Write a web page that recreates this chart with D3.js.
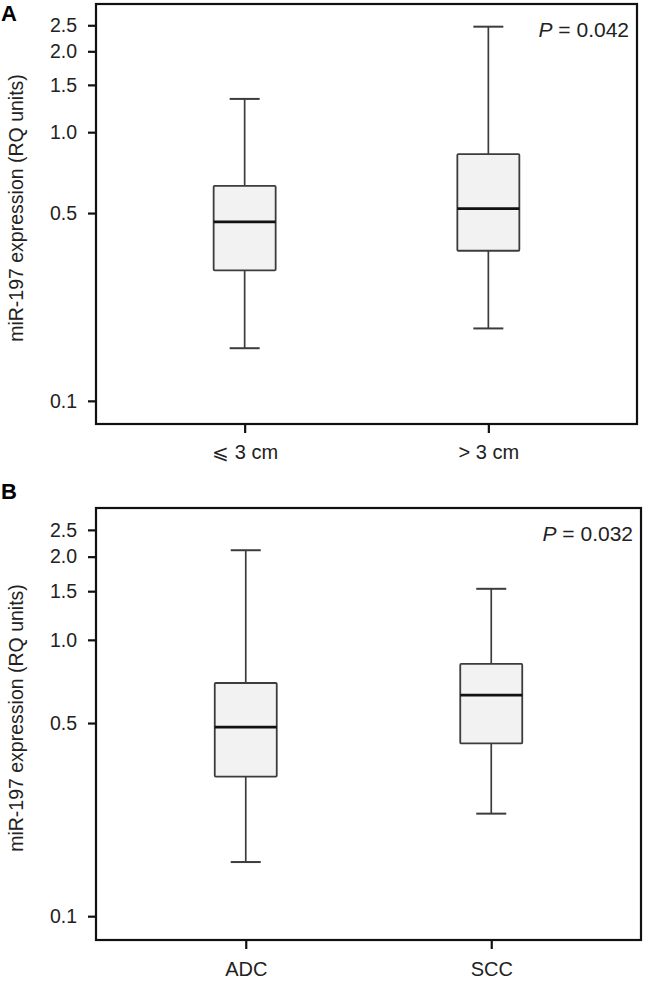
<!DOCTYPE html>
<html>
<head>
<meta charset="utf-8">
<script src="https://cdn.jsdelivr.net/npm/d3@7"></script>
<style>
  html, body { margin: 0; padding: 0; background: #fff; }
  svg { display: block; }
  text { font-family: "Liberation Sans", Arial, Helvetica, sans-serif; }
</style>
</head>
<body>
<svg id="chart" width="648" height="984"></svg>
<script>
// ---------- data ----------
const panelA_categories = ["\u2A7D 3 cm", "> 3 cm"];
const panelA_min    = [0.157, 0.186];
const panelA_q1     = [0.306, 0.362];
const panelA_median = [0.464, 0.519];
const panelA_q3     = [0.631, 0.829];
const panelA_max    = [1.33, 2.47];
const panelA_p      = "0.042";

const panelB_categories = ["ADC", "SCC"];
const panelB_min    = [0.157, 0.235];
const panelB_q1     = [0.320, 0.422];
const panelB_median = [0.483, 0.631];
const panelB_q3     = [0.698, 0.818];
const panelB_max    = [2.11, 1.53];
const panelB_p      = "0.032";

const yTickValues = [0.1, 0.5, 1.0, 1.5, 2.0, 2.5];
const yTickLabels = ["0.1", "0.5", "1.0", "1.5", "2.0", "2.5"];
const yDomain = [0.082, 3.0];
const yTitle = "miR-197 expression (RQ units)";

// ---------- drawing ----------
const svg = d3.select("#chart");

function drawPanel(cfg) {
  const { letter, cats, mins, q1s, meds, q3s, maxs, p, x0, x1, y0, y1, letterY, labelGap } = cfg;
  const g = svg.append("g");

  const y = d3.scaleLog().domain(yDomain).range([y1, y0]);
  const x = d3.scalePoint().domain(cats).range([x0, x1]).padding(0.61);

  const boxW = 62, capW = 30;
  const data = cats.map((c, i) => ({ c, min: mins[i], q1: q1s[i], med: meds[i], q3: q3s[i], max: maxs[i] }));

  const boxes = g.selectAll("g.box").data(data).enter().append("g").attr("class", "box");
  // whisker lines
  boxes.append("line")
    .attr("x1", d => x(d.c)).attr("x2", d => x(d.c))
    .attr("y1", d => y(d.max)).attr("y2", d => y(d.q3))
    .attr("stroke", "#3c3c3c").attr("stroke-width", 1.7);
  boxes.append("line")
    .attr("x1", d => x(d.c)).attr("x2", d => x(d.c))
    .attr("y1", d => y(d.q1)).attr("y2", d => y(d.min))
    .attr("stroke", "#3c3c3c").attr("stroke-width", 1.7);
  // caps
  boxes.append("line")
    .attr("x1", d => x(d.c) - capW / 2).attr("x2", d => x(d.c) + capW / 2)
    .attr("y1", d => y(d.max)).attr("y2", d => y(d.max))
    .attr("stroke", "#3c3c3c").attr("stroke-width", 2);
  boxes.append("line")
    .attr("x1", d => x(d.c) - capW / 2).attr("x2", d => x(d.c) + capW / 2)
    .attr("y1", d => y(d.min)).attr("y2", d => y(d.min))
    .attr("stroke", "#3c3c3c").attr("stroke-width", 2);
  // box
  boxes.append("rect")
    .attr("x", d => x(d.c) - boxW / 2).attr("width", boxW)
    .attr("y", d => y(d.q3)).attr("height", d => y(d.q1) - y(d.q3))
    .attr("fill", "#f2f2f2").attr("stroke", "#3c3c3c").attr("stroke-width", 1.8)
    .attr("rx", 1);
  // median
  boxes.append("line")
    .attr("x1", d => x(d.c) - boxW / 2).attr("x2", d => x(d.c) + boxW / 2)
    .attr("y1", d => y(d.med)).attr("y2", d => y(d.med))
    .attr("stroke", "#111").attr("stroke-width", 2.8);

  // frame
  g.append("rect")
    .attr("x", x0).attr("y", y0).attr("width", x1 - x0).attr("height", y1 - y0)
    .attr("fill", "none").attr("stroke", "#111").attr("stroke-width", 2.2);

  // y axis
  const yAxis = g.append("g").attr("transform", `translate(${x0},0)`)
    .call(d3.axisLeft(y).tickValues(yTickValues)
      .tickFormat((d, i) => yTickLabels[i]).tickSize(8).tickSizeOuter(0).tickPadding(11));
  yAxis.select(".domain").remove();
  yAxis.selectAll(".tick line").attr("stroke", "#111").attr("stroke-width", 2.2);
  yAxis.selectAll(".tick text").attr("fill", "#222").style("font-size", "19.5px");

  // x axis
  const xAxis = g.append("g").attr("transform", `translate(0,${y1})`)
    .call(d3.axisBottom(x).tickSize(9).tickSizeOuter(0).tickPadding(labelGap));
  xAxis.select(".domain").remove();
  xAxis.selectAll(".tick line").attr("stroke", "#111").attr("stroke-width", 2.2);
  xAxis.selectAll(".tick text").attr("fill", "#222").style("font-size", "20px");

  // y title
  g.append("text")
    .attr("transform", `translate(23,${(y0 + y1) / 2 - 6}) rotate(-90)`)
    .attr("text-anchor", "middle")
    .attr("fill", "#222")
    .style("font-size", "19.5px")
    .text(yTitle);

  // panel letter
  g.append("text")
    .attr("x", 1).attr("y", letterY)
    .attr("fill", "#000")
    .style("font-size", "22px").style("font-weight", "bold")
    .text(letter);

  // p value
  const pt = g.append("text")
    .attr("x", x1 - 8).attr("y", y0 + 33)
    .attr("text-anchor", "end")
    .attr("fill", "#222")
    .style("font-size", "21px");
  pt.append("tspan").style("font-style", "italic").text("P");
  pt.append("tspan").text(" = " + p);
}

drawPanel({
  letter: "A", cats: panelA_categories,
  mins: panelA_min, q1s: panelA_q1, meds: panelA_median, q3s: panelA_q3, maxs: panelA_max,
  p: panelA_p, x0: 96, x1: 637, y0: 4, y1: 424, letterY: 21, labelGap: 12
});
drawPanel({
  letter: "B", cats: panelB_categories,
  mins: panelB_min, q1s: panelB_q1, meds: panelB_median, q3s: panelB_q3, maxs: panelB_max,
  p: panelB_p, x0: 96, x1: 641, y0: 508, y1: 940, letterY: 499, labelGap: 13
});
</script>
</body>
</html>
